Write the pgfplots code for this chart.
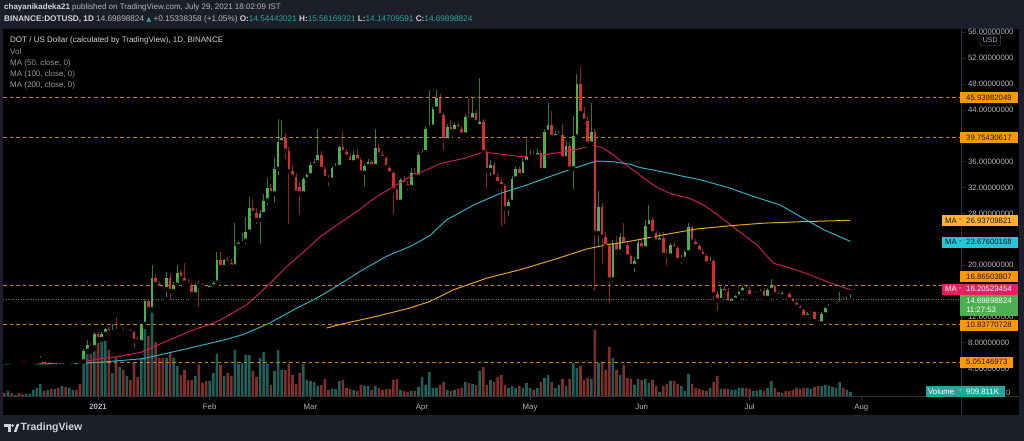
\documentclass[border=0pt]{standalone}
\usepackage{pgfplots}
\pgfplotsset{compat=1.18}
\usepackage{pgfplotstable}
\usepackage{fontspec}
\setmainfont{Liberation Sans}
\newfontfamily\dejavu{DejaVu Sans}
\definecolor{hdr}{HTML}{1C1F29}
\definecolor{txtw}{HTML}{D1D4DC}
\definecolor{txtg}{HTML}{B2B5BE}
\definecolor{txtd}{HTML}{9598A1}
\definecolor{tvteal}{HTML}{26A69A}
\definecolor{cup}{HTML}{4CAF50}
\definecolor{cdn}{HTML}{D32F2F}
\definecolor{wup}{HTML}{2F7A33}
\definecolor{wdn}{HTML}{961E1E}
\definecolor{vup}{HTML}{1E5F58}
\definecolor{vdn}{HTML}{7F2E2B}
\definecolor{maA}{HTML}{C8195A}
\definecolor{maAbox}{HTML}{E91E63}
\definecolor{maB}{HTML}{2AAFBF}
\definecolor{maBbox}{HTML}{26C6DA}
\definecolor{maC}{HTML}{E6A21A}
\definecolor{maCbox}{HTML}{FFB330}
\definecolor{hlbox}{HTML}{FF9800}
\definecolor{hlline}{HTML}{C98210}
\definecolor{pgreen}{HTML}{4CAF50}
\definecolor{plinegreen}{HTML}{3C8C3C}
\definecolor{axgray}{HTML}{2F333E}
\definecolor{dark}{HTML}{131722}
\newcommand\lblfont{\fontsize{7.8bp}{9bp}\selectfont}
\newcommand\hfont{\fontsize{8bp}{10bp}\selectfont}

\pgfplotstableread{
d o h l c v
-25 5.05 5.25 4.95 5.15 6
-23 4.95 5.10 4.85 5.02 2
-20 4.75 4.95 4.70 4.90 3
-19 4.90 5.05 4.82 4.98 3
-18 4.98 5.20 4.90 5.10 7
-17 5.10 5.45 5.05 5.38 9
-16 5.38 6.00 5.30 5.58 13
-14 5.42 5.65 5.35 5.52 7
-12 5.30 5.45 5.15 5.38 8
-10 5.18 5.35 5.10 5.28 11
-8 5.05 5.25 4.90 5.15 9
-7 5.15 5.45 5.10 5.38 7
-4 5.12 7.00 5.05 6.75 45
-3 6.75 8.40 6.60 7.60 51
-1 7.30 9.60 7.00 9.30 56
1 8.60 9.60 8.50 9.40 60
2 9.40 10.30 9.20 10.10 56
4 9.60 10.90 9.00 9.90 24
6 9.80 10.20 9.40 10.00 30
8 9.70 10.10 9.40 9.95 21
12 8.10 11.10 8.00 10.90 39
13 10.90 14.70 10.50 14.40 68
15 13.20 20.10 13.00 18.00 87
19 16.30 19.00 14.70 18.00 39
21 16.00 17.40 15.70 17.00 39
22 17.00 20.10 16.80 18.80 31
27 15.50 17.30 15.30 17.00 21
31 16.30 16.90 16.00 16.75 16
32 16.75 17.50 16.30 17.30 24
33 17.30 22.00 17.00 20.80 43
35 19.7 21.0 19.0 20.8 21
38 19.8 26.5 19.5 23.0 47
39 23.0 23.8 22.2 23.4 33
40 23.4 25.0 22.8 23.8 34
41 23.8 27.5 22.9 25.2 42
42 25.2 30.6 24.8 28.8 42
45 27.0 28.5 23.0 27.9 39
46 27.9 31.0 27.5 30.0 45
47 30.0 33.5 29.0 32.0 33
49 31.1 36.5 29.3 34.9 26
50 34.9 42.6 33.6 39.0 47
51 39.0 42.4 38.5 39.7 27
57 31.1 33.7 30.8 33.3 33
58 33.3 34.2 32.5 33.9 17
59 33.9 36.0 33.5 35.5 16
60 35.5 36.4 35.0 35.9 15
61 35.9 41.0 35.6 37.0 11
65 33.2 35.3 33.0 35.0 8
66 35.0 35.8 34.6 35.2 8
67 35.2 38.5 34.8 38.2 16
71 35.9 37.6 35.5 37.0 7
74 34.3 35.6 31.9 35.3 11
75 35.3 36.4 34.9 36.0 11
77 35.3 41.0 35.0 38.1 11
84 29.8 33.5 29.5 33.2 7
87 32.1 35.0 31.8 34.2 6
89 33.7 37.5 33.4 37.1 10
90 37.1 38.0 36.8 37.5 20
91 37.5 41.5 37.0 41.1 12
92 41.1 47.1 40.6 41.4 25
93 41.4 44.5 41.0 44.2 9
94 44.2 47.1 43.8 45.9 9
97 39.3 41.8 38.8 41.4 7
99 40.7 42.0 40.0 41.6 7
102 40.2 43.3 39.8 42.9 15
104 42.5 45.9 42.2 43.5 13
106 41.5 49.0 41.2 42.1 26
109 34.7 36.2 33.5 35.5 17
114 28.8 30.3 27.3 29.8 9
115 29.8 33.8 29.4 33.4 11
116 33.4 35.3 32.8 34.9 9
118 33.9 36.6 33.5 36.0 9
119 36.0 39.5 35.7 36.7 14
120 36.7 37.8 36.2 37.0 9
122 36.8 38.0 36.5 37.4 9
124 34.7 41.0 34.4 40.6 19
125 40.6 45.0 40.2 41.6 22
127 39.8 40.8 39.4 40.3 9
128 40.0 40.8 39.6 40.2 12
130 36.5 39.2 36.0 38.5 11
132 34.95 43.0 31.4 39.9 34
133 39.9 49.6 39.5 48.0 29
137 38.8 45.0 38.3 40.6 18
139 24.95 31.4 22.4 29.0 34
143 17.8 23.9 17.0 23.4 39
145 22.1 25.0 21.5 24.4 22
149 19.9 21.3 18.6 20.6 12
150 20.6 23.9 20.3 23.4 18
152 22.6 27.0 22.3 26.0 18
153 26.0 29.3 25.5 27.0 14
156 23.65 25.0 23.2 24.2 5
159 21.5 23.5 21.2 23.15 16
162 20.8 21.6 19.9 21.0 11
163 21.0 22.4 20.5 22.0 6
164 22.0 26.5 21.8 25.9 23
170 20.3 21.2 19.8 20.7 9
173 14.6 16.6 14.3 16.35 8
176 14.2 14.9 13.7 14.7 7
177 14.7 15.4 14.3 15.2 7
178 15.2 16.0 14.9 15.8 9
179 15.8 16.8 15.5 16.5 9
182 15.2 15.6 14.8 15.4 6
183 15.4 15.9 15.1 15.7 6
184 15.7 16.3 15.4 16.0 7
186 14.95 16.5 14.8 16.2 9
187 16.2 17.8 16.0 16.85 16
190 15.2 15.8 15.0 15.7 4
197 12.0 12.7 11.8 12.5 9
198 12.5 12.9 12.3 12.7 8
201 11.0 12.8 10.35 12.4 11
202 12.4 13.6 12.3 13.4 12
203 13.4 14.0 13.2 13.7 11
204 13.7 14.0 13.5 13.8 10
205 13.8 14.3 13.6 14.1 9
206 14.1 15.9 13.9 14.4 15
208 14.3 15.1 14.2 14.54 7
209 14.54 15.58 14.15 14.70 5
}\up

\pgfplotstableread{
d o h l c v
-26 5.20 5.35 4.95 5.05 4
-24 5.15 5.20 4.85 4.95 4
-22 5.02 5.10 4.80 4.88 4
-21 4.88 4.95 4.60 4.75 3
-15 5.58 5.70 5.30 5.42 6
-13 5.52 5.60 5.20 5.30 8
-11 5.38 5.45 5.10 5.18 9
-9 5.28 5.32 4.95 5.05 10
-6 5.38 5.50 5.15 5.22 7
-5 5.22 5.50 5.00 5.12 13
-2 7.60 8.00 7.10 7.30 43
0 9.30 9.70 8.30 8.60 62
3 10.10 10.40 9.30 9.60 47
5 9.90 12.00 9.60 9.80 40
7 10.00 10.30 9.50 9.70 27
9 9.95 10.20 9.50 9.60 17
10 9.60 9.80 6.80 8.30 35
11 8.30 8.90 7.50 8.10 20
14 14.40 14.80 12.90 13.20 61
16 18.00 18.60 16.80 17.10 55
17 17.10 17.50 16.30 16.50 39
18 16.50 17.00 15.90 16.30 39
20 18.00 18.80 14.30 16.00 45
23 18.80 19.30 17.70 18.00 22
24 18.00 20.30 17.00 17.30 27
25 17.30 17.80 16.60 16.90 17
26 16.90 17.20 14.70 15.50 17
28 17.00 17.60 13.20 16.80 32
29 16.80 17.20 16.30 16.60 14
30 16.60 16.90 16.00 16.30 16
34 20.8 22.0 19.3 19.7 32
36 20.8 21.2 20.0 20.4 24
37 20.4 20.9 19.2 19.8 21
43 28.8 30.2 27.5 28.1 26
44 28.1 28.8 26.0 27.0 20
48 32.0 32.5 30.5 31.1 12
52 39.7 40.5 36.0 37.7 27
53 37.7 38.3 26.0 34.5 33
54 34.5 35.5 33.0 33.7 22
55 33.7 34.2 30.5 31.2 13
56 32.1 32.8 27.5 31.1 24
62 37.0 37.6 34.5 34.9 12
63 34.9 35.4 33.2 33.5 18
64 33.5 34.0 31.9 33.2 7
68 38.2 40.7 37.3 37.5 17
69 37.5 38.0 36.4 36.8 9
70 36.8 37.3 35.6 35.9 8
72 37.0 37.9 36.0 36.2 6
73 36.2 36.5 33.8 34.3 12
76 36.0 36.3 35.0 35.3 7
78 38.1 38.8 36.8 37.1 9
79 37.1 37.6 36.2 36.6 7
80 36.6 36.9 34.8 35.1 8
81 35.1 35.4 33.8 34.2 8
82 34.2 34.5 27.5 31.6 17
83 31.6 32.0 29.2 29.8 18
85 33.2 33.8 32.2 32.5 6
86 32.5 33.0 31.2 32.1 5
88 34.2 35.0 33.2 33.7 6
95 45.9 46.5 42.8 43.2 12
96 43.2 43.5 37.5 39.3 15
98 41.4 42.4 40.2 40.7 6
100 41.6 42.0 40.8 41.1 8
101 41.1 41.5 39.5 40.2 9
103 42.9 45.9 42.0 42.5 14
105 43.5 44.0 41.8 42.1 12
107 42.1 42.6 37.0 37.5 30
108 37.5 38.0 31.6 34.7 12
110 35.5 36.0 33.3 33.7 15
111 33.7 34.2 32.3 32.7 20
112 32.8 33.5 25.7 32.2 22
113 32.2 32.6 26.0 28.8 12
117 34.9 35.2 33.6 33.9 11
121 37.0 37.6 36.4 36.8 7
123 37.4 37.8 34.2 34.7 15
126 41.6 43.9 39.5 39.8 15
129 40.2 41.9 36.2 36.5 18
131 38.5 39.0 34.3 34.95 18
134 48.0 50.6 43.0 43.5 31
135 43.5 44.5 41.5 42.3 17
136 42.3 43.0 38.3 38.8 19
138 40.6 41.0 15.7 24.95 67
140 29.0 29.6 19.8 24.4 35
141 24.4 25.2 22.3 22.9 27
142 22.9 23.5 13.7 17.8 50
144 23.4 24.5 21.2 22.1 27
146 24.4 26.5 22.8 23.15 32
147 23.15 23.6 20.8 21.35 19
148 21.35 21.8 19.5 19.9 18
151 23.4 24.0 22.3 22.6 17
154 27.0 27.4 24.6 24.95 17
155 24.95 25.3 23.3 23.65 11
157 24.2 25.2 21.3 21.6 11
158 21.9 22.5 19.6 21.5 13
160 23.15 23.6 22.3 22.6 16
161 22.6 23.0 20.3 20.8 13
165 25.9 26.0 23.3 23.65 13
166 23.65 24.0 22.6 22.9 9
167 22.9 23.3 21.8 22.1 8
168 22.1 22.5 21.0 21.4 7
169 21.4 21.8 20.0 20.3 6
171 20.7 20.9 14.2 15.5 15
172 15.5 16.0 12.6 14.6 21
174 16.35 16.8 15.4 15.8 8
175 15.8 16.4 13.9 14.2 8
180 16.5 17.0 16.0 16.2 9
181 16.2 16.6 14.9 15.2 8
185 16.0 16.4 14.7 14.95 6
188 16.85 17.0 15.3 15.5 9
189 15.5 15.9 15.0 15.2 5
191 15.7 15.9 15.2 15.5 6
192 15.5 15.8 14.5 14.7 6
193 14.7 14.9 13.9 14.1 7
194 14.1 14.3 13.4 13.6 9
195 13.6 13.9 12.9 13.05 8
196 13.05 13.2 11.8 12.0 9
199 12.7 12.9 11.2 11.35 10
200 11.35 11.6 10.8 11.0 11
207 14.6 15.0 14.2 14.3 9
}\dn

\begin{document}
\begin{tikzpicture}[x=1bp,y=1bp]
\useasboundingbox (0,0) rectangle (1024,441);
\fill[black] (0,0) rectangle (1024,441);
\begin{scope}[yshift=441bp,y=-1bp]
\fill[hdr] (0,0) rectangle (1024,29);
\fill[hdr] (0,0) rectangle (3,441);
\fill[hdr] (1019,0) rectangle (1024,441);
\fill[hdr] (0,415.5) rectangle (1024,441);
\end{scope}

% volume
\begin{axis}[at={(3bp,44bp)}, anchor=south west, width=958bp, height=368bp,
  scale only axis, xmin=-26.4, xmax=239.7, ymin=0, ymax=368, hide axis]
\addplot[ybar, bar width=2.6bp, bar shift=0pt, fill=vup, draw=none] table[x=d,y=v] {\up};
\addplot[ybar, bar width=2.6bp, bar shift=0pt, fill=vdn, draw=none] table[x=d,y=v] {\dn};
\end{axis}

% price
\begin{axis}[at={(3bp,44bp)}, anchor=south west, width=958bp, height=368bp,
  scale only axis, xmin=-26.4, xmax=239.7, ymin=-0.37, ymax=56.51,
  axis line style={draw=none},
  ytick={4,8,12,20,28,32,36,44,48,52,56},
  yticklabels={4.00000000,8.00000000,12.00000000,20.00000000,28.00000000,32.00000000,36.00000000,44.00000000,48.00000000,52.00000000,56.00000000},
  extra y ticks={0,16,24,40}, extra y tick labels={},
  yticklabel pos=right, ytick pos=right, xtick pos=bottom,
  xtick={0,31,59,90,120,151,181,212},
  xticklabels={\textbf{2021},Feb,Mar,Apr,May,Jun,Jul,Aug},
  tick align=outside, major tick length=3.5bp,
  tick style={draw=axgray, line width=0.8bp},
  ticklabel style={font=\lblfont, text=txtg},
  yticklabel style={anchor=west},
  clip=true]
% wicks
\addplot[forget plot, only marks, mark=none,
  error bars/.cd, y dir=plus, y explicit, error mark=none,
  error bar style={line width=0.9bp, draw=wup}]
  table[x=d, y=l, y error plus expr=\thisrow{h}-\thisrow{l}] {\up};
\addplot[forget plot, only marks, mark=none,
  error bars/.cd, y dir=plus, y explicit, error mark=none,
  error bar style={line width=0.9bp, draw=wdn}]
  table[x=d, y=l, y error plus expr=\thisrow{h}-\thisrow{l}] {\dn};
% bodies
\addplot[forget plot, only marks, mark=none,
  error bars/.cd, y dir=plus, y explicit, error mark=none,
  error bar style={line width=2.6bp, draw=cup}]
  table[x=d, y=o, y error plus expr=\thisrow{c}-\thisrow{o}] {\up};
\addplot[forget plot, only marks, mark=none,
  error bars/.cd, y dir=plus, y explicit, error mark=none,
  error bar style={line width=2.6bp, draw=cdn}]
  table[x=d, y=c, y error plus expr=\thisrow{o}-\thisrow{c}] {\dn};
% moving averages
\addplot[maA, line width=1bp] coordinates {(-26.4,5.00) (-20,5.02) (-15,5.05) (-10,5.08) (-5,5.12) (-2,5.3) (0.6,5.55) (5.2,5.85) (9.8,6.35) (11.7,6.5) (13.5,6.9) (16.3,7.6) (20,8.5) (24.7,9.6) (28,10.3) (31.1,10.85) (33.9,11.5) (36.7,12.4) (41.3,13.9) (44.5,15.5) (47.8,17.2) (52.4,19.8) (57,22.0) (61.7,24.4) (66.3,26.2) (71.9,28.3) (77.4,30.6) (82,32.1) (86.7,33.7) (92.2,34.95) (95,35.7) (101.5,36.5) (107,37.5) (112.6,37.1) (117.2,36.8) (121.8,36.9) (129.3,37.5) (133.9,38.0) (137.6,38.5) (139.9,38.2) (142.5,37.3) (145,36.2) (150.5,33.9) (152.4,33.15) (155,32.1) (158.9,31.1) (164.5,30.3) (168.2,29.3) (172.8,27.5) (177.4,25.5) (183,23.15) (187.6,20.3) (192.2,19.6) (197.8,18.5) (203.4,17.25) (209,16.205)};
\addplot[maB, line width=1bp] coordinates {(-26.4,4.72) (-15,4.76) (-5,4.82) (0.6,5.0) (6,5.25) (12.6,5.56) (20,6.5) (27,7.4) (31.1,7.92) (36,8.6) (40.4,9.3) (47.8,11.1) (54.3,13.1) (60.7,14.9) (66.3,16.75) (72.8,19.05) (80.2,21.4) (86.7,22.9) (89.4,23.7) (92.2,24.6) (96.8,27.0) (104.3,29.3) (111.7,31.1) (119.1,32.4) (126.5,33.9) (133.9,35.3) (138.5,36.1) (143.1,36.0) (147.8,35.6) (150.5,35.1) (158,34.3) (162,33.8) (167.7,33.15) (175.6,31.9) (181.1,30.8) (189.5,29.3) (195.9,27.25) (201.5,25.5) (209,23.676)};
\addplot[maC, line width=1bp] coordinates {(63.5,10.3) (68.1,10.95) (77.4,12.1) (86.7,13.4) (92.2,14.4) (98.7,16.2) (108,18.0) (117.2,19.3) (126.5,20.85) (135.7,22.5) (141.3,23.15) (147.8,23.7) (157.1,24.7) (166.3,25.6) (175.6,26.1) (184.8,26.5) (194.1,26.7) (209,26.937)};
% horizontal levels
\addplot[hlline, line width=0.8bp, dash pattern=on 3.5bp off 3bp] coordinates {(-26.4,45.93982049) (239.7,45.93982049)};
\addplot[hlline, line width=0.8bp, dash pattern=on 3.5bp off 3bp] coordinates {(-26.4,39.75430617) (239.7,39.75430617)};
\addplot[hlline, line width=0.8bp, dash pattern=on 3.5bp off 3bp] coordinates {(-26.4,16.86503807) (239.7,16.86503807)};
\addplot[hlline, line width=0.8bp, dash pattern=on 3.5bp off 3bp] coordinates {(-26.4,10.83770728) (239.7,10.83770728)};
\addplot[hlline, line width=0.8bp, dash pattern=on 3.5bp off 3bp] coordinates {(-26.4,5.05146973) (239.7,5.05146973)};
\addplot[plinegreen, line width=0.7bp, dash pattern=on 1bp off 1.5bp] coordinates {(-26.4,14.69898824) (239.7,14.69898824)};
\end{axis}

\begin{scope}[yshift=441bp,y=-1bp]
\draw[axgray, line width=1bp] (3,397) -- (1019,397);
\draw[axgray, line width=1bp] (961,29) -- (961,415.5);
% right-hand boxes
\newcommand\pbox[4]{\fill[#2] (960,#1-5.6) rectangle (1018,#1+5.6);
  \node[anchor=west, inner sep=0pt, text=#3, font=\lblfont] at (966,#1) {#4};}
\newcommand\mabox[4]{\fill[#2] (942,#1-5.6) rectangle (1018,#1+5.6);
  \node[anchor=west, inner sep=0pt, text=#3, font=\lblfont] at (945,#1) {MA};
  \node[inner sep=0pt, text=#3, font=\lblfont] at (960.5,#1) {-};
  \node[anchor=west, inner sep=0pt, text=#3, font=\lblfont] at (966,#1) {#4};}
\pbox{97.5}{hlbox}{dark}{45.93982049}
\pbox{137.8}{hlbox}{dark}{39.75430617}
\mabox{220.8}{maCbox}{dark}{26.93709821}
\mabox{242.2}{maBbox}{dark}{23.67600168}
\pbox{276.7}{hlbox}{dark}{16.86503807}
\mabox{289.2}{maAbox}{white}{16.20523454}
\fill[pgreen] (960,295) rectangle (1018,315.7);
\node[anchor=west, inner sep=0pt, text=white, font=\lblfont] at (966,300.6) {14.69898824};
\node[anchor=west, inner sep=0pt, text=white, font=\lblfont] at (966,310.2) {11:27:53};
\pbox{325.3}{hlbox}{dark}{10.83770728}
\fill[hlbox] (960,356.8) rectangle (1013,367.7);
\node[anchor=west, inner sep=0pt, text=dark, font=\lblfont] at (966,362.2) {5.05146973};
\fill[tvteal] (925.5,386.4) rectangle (1005,397);
\node[anchor=west, inner sep=0pt, text=white, font=\lblfont] at (928,391.7) {Volume};
\node[inner sep=0pt, text=white, font=\lblfont] at (960.5,391.7) {-};
\node[anchor=west, inner sep=0pt, text=white, font=\lblfont] at (966,391.7) {909.811K};
\node[anchor=west, inner sep=0pt, text=txtg, font=\lblfont] at (1005.8,393) {0};
% USD badge
\draw[draw=axgray, line width=0.8bp, rounded corners=2bp] (980,34.5) rectangle (1000.5,45.8);
\node[inner sep=0pt, text=txtg, font=\fontsize{7bp}{8bp}\selectfont] at (990.2,40.2) {USD};
% header
\node[anchor=west, inner sep=0pt, font=\hfont] at (4,7.5) {\textcolor{txtw}{\textbf{chayanikadeka21}} \textcolor{txtg}{published on TradingView.com, July 29, 2021 18:02:09 IST}};
\node[anchor=west, inner sep=0pt, font=\fontsize{8.2bp}{10bp}\selectfont, text=txtg] at (4,19.3) {\textcolor{txtw}{\textbf{BINANCE:DOTUSD, 1D}} 14.69898824 {\dejavu\fontsize{6.5bp}{8bp}\selectfont\textcolor{tvteal}{▲}} +0.15338358 (+1.05\%) \textcolor{txtw}{\textbf{O:}}\textcolor{tvteal}{14.54443021} \textcolor{txtw}{\textbf{H:}}\textcolor{tvteal}{15.58169321} \textcolor{txtw}{\textbf{L:}}\textcolor{tvteal}{14.14709591} \textcolor{txtw}{\textbf{C:}}\textcolor{tvteal}{14.69898824}};
% legend
\node[anchor=west, inner sep=0pt, font=\hfont, text=txtw] at (10,40.7) {DOT / US Dollar (calculated by TradingView), 1D, BINANCE};
\node[anchor=west, inner sep=0pt, font=\hfont, text=txtd] at (10,51.8) {Vol};
\node[anchor=west, inner sep=0pt, font=\hfont, text=txtd] at (10,63.1) {MA (50, close, 0)};
\node[anchor=west, inner sep=0pt, font=\hfont, text=txtd] at (10,74.4) {MA (100, close, 0)};
\node[anchor=west, inner sep=0pt, font=\hfont, text=txtd] at (10,85.8) {MA (200, close, 0)};
% footer logo
\fill[txtw] (4,424) rectangle (10.5,427);
\fill[txtw] (7.5,424) rectangle (10.5,432);
\fill[txtw] (12.6,425.6) circle (1.5);
\fill[txtw] (13.8,432) -- (16.4,432) -- (19.3,424) -- (16.7,424) -- cycle;
\node[anchor=west, inner sep=0pt, text=txtw, font=\fontsize{10.5bp}{12bp}\selectfont\bfseries] at (20.5,428) {TradingView};
\end{scope}
\end{tikzpicture}
\end{document}
